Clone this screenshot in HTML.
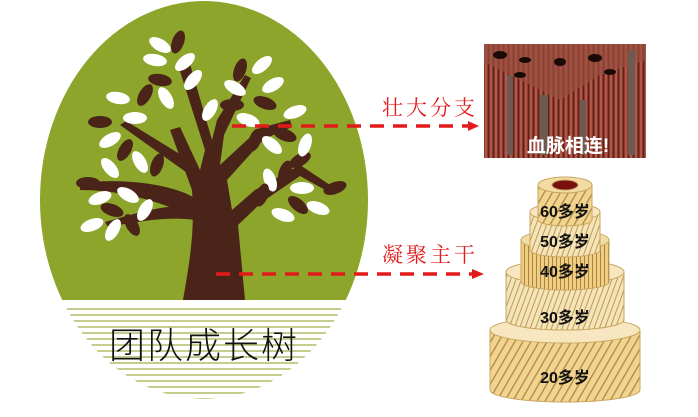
<!DOCTYPE html>
<html><head><meta charset="utf-8"><style>
html,body{margin:0;padding:0;background:#fff;width:698px;height:417px;overflow:hidden}
</style></head><body>
<svg width="698" height="417" viewBox="0 0 698 417" xmlns="http://www.w3.org/2000/svg">
<defs>
<clipPath id="ell"><ellipse cx="204" cy="200" rx="164" ry="199"/></clipPath>
<pattern id="wood" width="5" height="10" patternUnits="userSpaceOnUse">
<rect width="5" height="10" fill="#8a3a2a"/><rect x="0" width="2" height="10" fill="#b0564a"/><rect x="3" width="1" height="10" fill="#5a2218"/></pattern>
<pattern id="h1" width="7" height="7" patternUnits="userSpaceOnUse" patternTransform="rotate(30)">
<rect width="7" height="7" fill="#f2d48e"/><rect width="1.3" height="7" fill="#a88a4a"/></pattern>
<pattern id="h2" width="5" height="5" patternUnits="userSpaceOnUse" patternTransform="rotate(20)">
<rect width="5" height="5" fill="#f7e4b4"/><rect width="1" height="5" fill="#b59a66"/></pattern>
<pattern id="h3" width="4" height="4" patternUnits="userSpaceOnUse">
<rect width="4" height="4" fill="#f0cd80"/><rect width="1" height="4" fill="#a88444"/></pattern>
<g id="lw"><ellipse rx="12" ry="6" fill="#fff"/></g>
<g id="lb"><ellipse rx="12" ry="6" fill="#4a2418"/></g>
</defs>
<g clip-path="url(#ell)">
<rect x="0" y="0" width="400" height="301" fill="#8da52a"/>
<g stroke="#a3ad4a" stroke-width="1.3">
<line x1="40" y1="309" x2="368" y2="309"/><line x1="40" y1="315" x2="368" y2="315"/>
<line x1="40" y1="321" x2="368" y2="321"/><line x1="40" y1="327" x2="368" y2="327"/>
<line x1="40" y1="333" x2="368" y2="333"/><line x1="40" y1="339" x2="368" y2="339"/>
<line x1="40" y1="345" x2="368" y2="345"/><line x1="40" y1="351" x2="368" y2="351"/>
<line x1="40" y1="357" x2="368" y2="357"/><line x1="40" y1="363" x2="368" y2="363"/>
<line x1="40" y1="369" x2="368" y2="369"/><line x1="40" y1="375" x2="368" y2="375"/>
<line x1="40" y1="381" x2="368" y2="381"/><line x1="40" y1="387" x2="368" y2="387"/>
<line x1="40" y1="393" x2="368" y2="393"/><line x1="40" y1="399" x2="368" y2="399"/>
</g>
</g>
<rect x="0" y="300" width="400" height="7" fill="#fff"/>
<g fill="#4a2418">
<path d="M183,300 C190,260 195,230 192,190 L170,130 L180,127 L200,170 L205,150 L178,65 L190,64 L212,140 L217,120 L245,75 L251,78 L224,135 L220,165 L260,128 L290,120 L292,127 L264,139 L227,180 L232,210 L255,190 L300,165 L330,185 L327,191 L300,176 L262,202 L238,225 L245,300 Z"/>
<path d="M195,198 C170,183 120,178 80,183 L80,190 C110,190 150,196 195,218 Z"/>
<path d="M195,205 C160,205 130,215 105,222 L108,227 C140,221 170,216 195,220 Z"/>
<path d="M190,175 L120,125 L126,121 L196,164 Z"/>
</g>
<g>
<use href="#lw" transform="translate(160,45) rotate(30)"/><use href="#lb" transform="translate(178,42) rotate(-70)"/>
<use href="#lw" transform="translate(155,60) rotate(10)"/><use href="#lw" transform="translate(185,62) rotate(-40)"/>
<use href="#lb" transform="translate(160,80) rotate(10)"/><use href="#lw" transform="translate(193,80) rotate(-50)"/>
<use href="#lw" transform="translate(118,98) rotate(10)"/><use href="#lb" transform="translate(145,95) rotate(-60)"/>
<use href="#lw" transform="translate(166,98) rotate(60)"/><use href="#lw" transform="translate(135,118) rotate(0)"/>
<use href="#lb" transform="translate(100,122) rotate(0)"/><use href="#lw" transform="translate(110,140) rotate(-30)"/>
<use href="#lb" transform="translate(125,150) rotate(-60)"/><use href="#lw" transform="translate(140,162) rotate(60)"/>
<use href="#lb" transform="translate(157,165) rotate(-70)"/><use href="#lw" transform="translate(110,168) rotate(50)"/>
<use href="#lb" transform="translate(88,183) rotate(0)"/><use href="#lw" transform="translate(100,198) rotate(-20)"/>
<use href="#lw" transform="translate(128,195) rotate(30)"/><use href="#lb" transform="translate(112,210) rotate(20)"/>
<use href="#lw" transform="translate(92,225) rotate(-20)"/><use href="#lw" transform="translate(113,230) rotate(-60)"/>
<use href="#lb" transform="translate(132,225) rotate(60)"/><use href="#lw" transform="translate(145,210) rotate(-60)"/>
<use href="#lb" transform="translate(240,70) rotate(-70)"/><use href="#lw" transform="translate(262,65) rotate(-40)"/>
<use href="#lw" transform="translate(235,88) rotate(30)"/><use href="#lw" transform="translate(273,85) rotate(-30)"/>
<use href="#lb" transform="translate(232,105) rotate(0)"/><use href="#lb" transform="translate(265,103) rotate(20)"/>
<use href="#lw" transform="translate(295,112) rotate(-20)"/><use href="#lw" transform="translate(248,120) rotate(20)"/>
<use href="#lw" transform="translate(272,145) rotate(40)"/><use href="#lb" transform="translate(285,135) rotate(20)"/>
<use href="#lb" transform="translate(300,160) rotate(-30)"/><use href="#lw" transform="translate(305,145) rotate(-70)"/>
<use href="#lb" transform="translate(285,172) rotate(-70)"/><use href="#lw" transform="translate(270,180) rotate(70)"/>
<use href="#lw" transform="translate(302,188) rotate(0)"/><use href="#lb" transform="translate(335,188) rotate(-20)"/>
<use href="#lw" transform="translate(318,208) rotate(20)"/><use href="#lb" transform="translate(298,205) rotate(40)"/>
<use href="#lw" transform="translate(283,215) rotate(20)"/><use href="#lb" transform="translate(262,195) rotate(-70)"/>
<use href="#lb" transform="translate(255,140) rotate(-70)"/><use href="#lw" transform="translate(210,110) rotate(-60)"/>
</g>
<text x="204" y="358" text-anchor="middle" font-family="'Liberation Sans','Noto Sans CJK SC',sans-serif" font-size="36" font-weight="300" fill="#111" letter-spacing="2">团队成长树</text>
<line x1="232" y1="126" x2="470" y2="126" stroke="#e31a1a" stroke-width="3.5" stroke-dasharray="14,9"/>
<polygon points="468,121 479,126 468,131" fill="#e31a1a"/>
<line x1="216" y1="274" x2="474" y2="274" stroke="#e31a1a" stroke-width="3.5" stroke-dasharray="14,9"/>
<polygon points="472,269 484,274 472,279" fill="#e31a1a"/>
<text x="382" y="115" font-family="'Liberation Serif','Noto Serif CJK SC',serif" font-size="21" fill="#e31a1a" letter-spacing="3">壮大分支</text>
<text x="382" y="262" font-family="'Liberation Serif','Noto Serif CJK SC',serif" font-size="21" fill="#e31a1a" letter-spacing="3">凝聚主干</text>
<rect x="484" y="44" width="162" height="114" fill="url(#wood)"/>
<path d="M484,44 L646,44 L646,60 L600,75 L560,100 L484,62 Z" fill="#9a5040" opacity="0.7"/>
<g fill="#1a0a06"><ellipse cx="500" cy="55" rx="7" ry="4"/><ellipse cx="525" cy="60" rx="6" ry="3"/><ellipse cx="560" cy="62" rx="6" ry="4"/><ellipse cx="595" cy="58" rx="7" ry="4"/><ellipse cx="520" cy="75" rx="6" ry="3"/><ellipse cx="610" cy="72" rx="6" ry="3"/></g>
<g fill="#6e5a50"><rect x="507" y="75" width="6" height="80"/><rect x="540" y="95" width="8" height="60"/><rect x="580" y="100" width="6" height="55"/><rect x="628" y="50" width="7" height="105"/></g>
<text x="568" y="152" text-anchor="middle" font-family="'Liberation Sans','Noto Sans CJK SC',sans-serif" font-size="19" font-weight="bold" fill="#fff">血脉相连!</text>
<g stroke="#c9a660" stroke-width="1">
<path d="M490,330 L490,390 A75,12 0 0 0 640,390 L640,330 Z" fill="url(#h1)"/>
<ellipse cx="565" cy="330" rx="75" ry="13" fill="#f7e6bf"/>
<path d="M506,272 L506,320 A59,10 0 0 0 624,320 L624,272 Z" fill="url(#h2)"/>
<ellipse cx="565" cy="272" rx="59" ry="12" fill="#f7e6bf"/>
<path d="M521,240 L521,282 A44,8 0 0 0 609,282 L609,240 Z" fill="url(#h3)"/>
<ellipse cx="565" cy="240" rx="44" ry="10" fill="#f3dca4"/>
<path d="M530,212 L530,250 A35,7 0 0 0 600,250 L600,212 Z" fill="url(#h2)"/>
<ellipse cx="565" cy="212" rx="35" ry="9" fill="#f7e6bf"/>
<path d="M538,185 L538,220 A27,6 0 0 0 592,220 L592,185 Z" fill="url(#h1)"/>
<ellipse cx="565" cy="185" rx="27" ry="8" fill="#f3dca4"/>
<ellipse cx="565" cy="185" rx="13" ry="5" fill="#7a1010"/>
</g>
<g font-family="'Liberation Sans','Noto Sans CJK SC',sans-serif" font-size="16" font-weight="bold" fill="#111" text-anchor="middle">
<text x="565" y="217">60多岁</text>
<text x="565" y="247">50多岁</text>
<text x="565" y="277">40多岁</text>
<text x="565" y="323">30多岁</text>
<text x="565" y="383">20多岁</text>
</g>
</svg>
</body></html>
